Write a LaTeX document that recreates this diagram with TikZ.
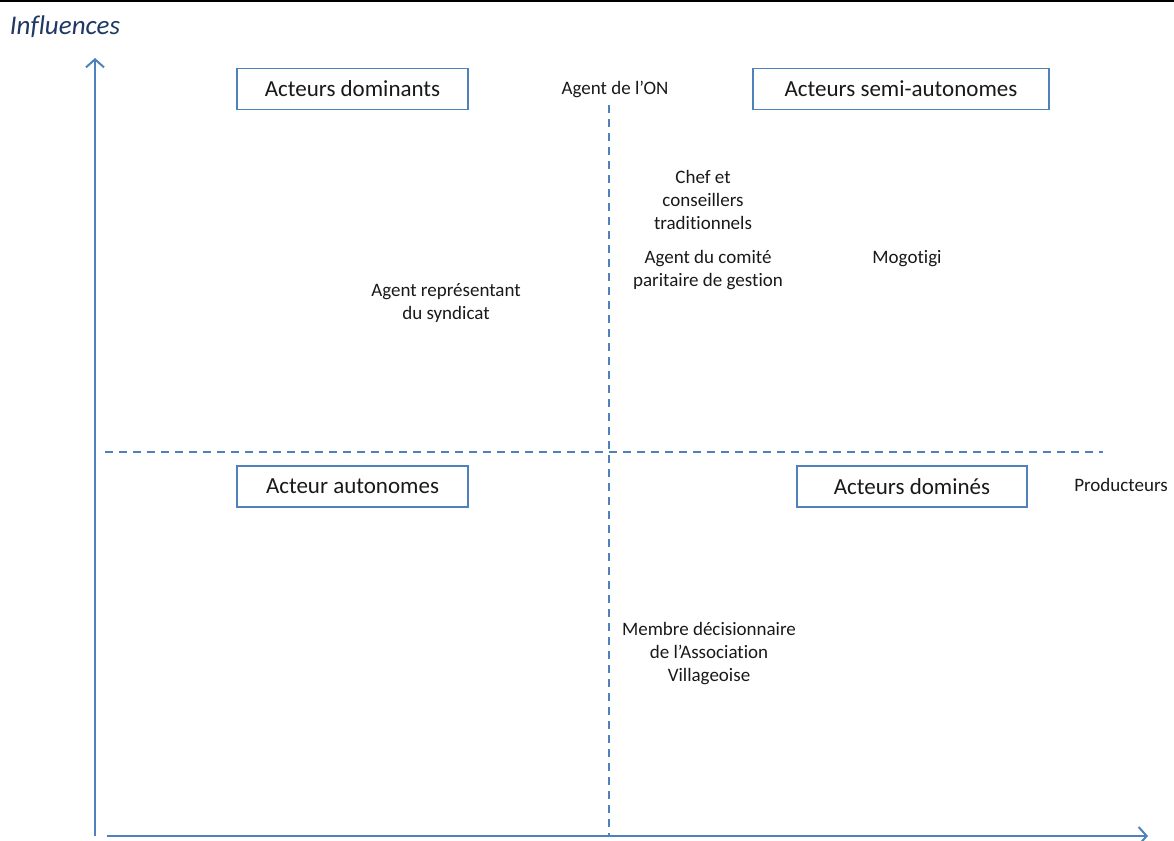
\documentclass[tikz,border=0pt]{standalone}
\usepackage{fontspec}
\setmainfont{Carlito}[Ligatures=NoCommon]
\usepackage{tikz}
\usetikzlibrary{arrows.meta,positioning}
\definecolor{axisblue}{RGB}{79,129,189}
\definecolor{titleblue}{RGB}{31,56,100}
\definecolor{textgray}{RGB}{25,25,25}

\begin{document}
\begin{tikzpicture}[
  x=1pt,y=-1pt,
  box/.style={rectangle,draw=axisblue,line width=1.6pt,inner sep=0pt,
              minimum width=231pt,minimum height=41pt,text=textgray,
              font=\fontsize{23}{27}\selectfont},
  actor/.style={align=center,text=textgray,font=\fontsize{19}{23}\selectfont},
  axis/.style={draw=axisblue,line width=2pt,-{Straight Barb[length=8pt,width=18pt]}},
  split/.style={draw=axisblue,line width=2pt,dash pattern=on 8pt off 6pt}
]
\useasboundingbox (0,0) rectangle (1174,840);
\draw[black,line width=2pt] (0,1) -- (1174,1);

% axes
\coordinate (o) at (95,836);
\coordinate (ytop) at (95,58);
\coordinate (xo) at (107,836);
\coordinate (xend) at (1148,836);
\draw[axis] (o) -- (ytop);
\draw[axis] (xo) -- (xend);
\node[text=titleblue,font=\itshape\fontsize{27}{30}\selectfont] (infl) at (65,27) {Influences};

% quadrants
\coordinate (hl) at (105,452);
\coordinate (hr) at (1103,452);
\coordinate (vt) at (609,105);
\coordinate (vb) at (609,836);
\draw[split] (hl) -- (hr);
\draw[split] (vt) -- (vb);

\node[box] (dom) at (352.5,89) {Acteurs dominants};
\node[box,minimum width=296pt] (semi) at (901,89) {Acteurs semi-autonomes};
\node[box] (auto) at (352.5,486.5) {Acteur autonomes};
\node[box,minimum width=230pt] (domi) at (912,486.5) {Acteurs dominés};

% actors
\node[actor] (on) at (615,89) {Agent de l’ON};
\node[actor] (chef) at (703,200) {Chef et\\conseillers\\traditionnels};
\node[actor] (comite) at (708,270) {Agent du comité\\paritaire de gestion};
\node[actor] (mogo) at (907,259) {Mogotigi};
\node[actor] (synd) at (446,303) {Agent représentant\\du syndicat};
\node[actor] (prod) at (1121,485) {Producteurs};
\node[actor] (assoc) at (709,654) {Membre décisionnaire\\de l’Association\\Villageoise};
\end{tikzpicture}
\end{document}
